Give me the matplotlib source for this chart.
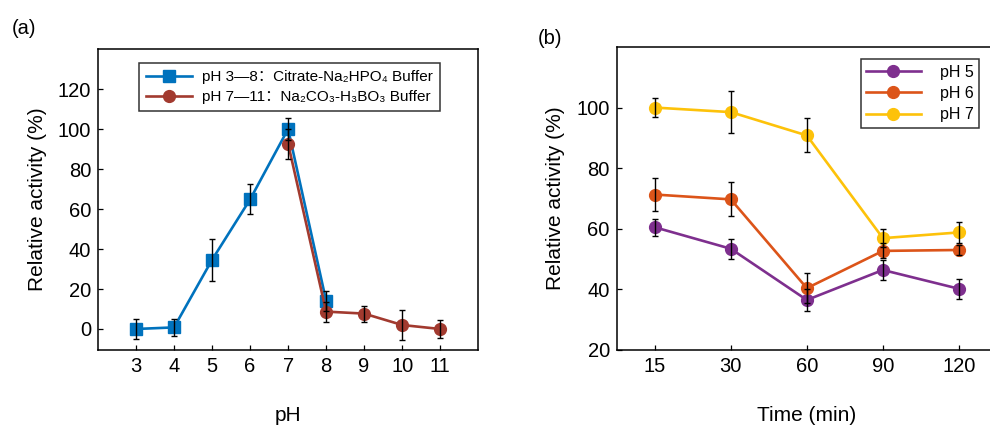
import numpy as np
import matplotlib
matplotlib.use("Agg")
import matplotlib.pyplot as plt

plt.rcParams['font.family'] = ['Liberation Sans', 'Noto Sans CJK SC', 'DejaVu Sans']

# panel (a): pH profile
ph_citrate = [3, 4, 5, 6, 7, 8]
act_citrate = [0, 0.8, 34.6, 64.8, 100, 14.1]
err_citrate = [5, 4.4, 10.6, 7.5, 5.4, 5]

ph_borate = [7, 8, 9, 10, 11]
act_borate = [92.7, 8.7, 7.7, 2.0, 0]
err_borate = [7.5, 5, 4, 7.5, 4.5]

# panel (b): stability over time
times = ['15', '30', '60', '90', '120']
ph5 = [60.5, 53.4, 36.5, 46.4, 40.2]
ph5_err = [2.8, 3.3, 3.5, 3.3, 3.3]
ph6 = [71.3, 69.7, 40.4, 52.7, 53.0]
ph6_err = [5.3, 5.6, 5.0, 2.5, 1.7]
ph7 = [100, 98.5, 90.8, 56.9, 58.8]
ph7_err = [3.2, 7.0, 5.6, 3.0, 3.5]

blue = '#0072BD'
brown = '#A23A2F'
purple = '#7E2F8E'
orange = '#DC5419'
yellow = '#FDC20A'

fig = plt.figure(figsize=(9.9, 4.25), dpi=100)
ax1 = fig.add_axes([0.099, 0.1765, 0.384, 0.708])
ax2 = fig.add_axes([0.623, 0.1765, 0.384, 0.713])

def style(ax):
    ax.tick_params(direction='in', length=3.5, width=0.9, labelsize=14.5, pad=5,
                   top=False, right=False)
    for s in ax.spines.values():
        s.set_linewidth(1.1)

# --- (a)
ax1.plot(ph_citrate, act_citrate, '-s', color=blue, lw=1.9, ms=8.5, zorder=2,
         label='pH 3\u20148\uff1aCitrate-Na\u2082HPO\u2084 Buffer')
ax1.errorbar(ph_citrate, act_citrate, yerr=err_citrate, fmt='none', ecolor='black',
             elinewidth=1, capsize=2.5, capthick=1, zorder=4)
ax1.plot(ph_borate, act_borate, '-o', color=brown, lw=1.9, ms=8.5, zorder=3,
         label='pH 7\u201411\uff1aNa\u2082CO\u2083-H\u2083BO\u2083 Buffer')
ax1.errorbar(ph_borate, act_borate, yerr=err_borate, fmt='none', ecolor='black',
             elinewidth=1, capsize=2.5, capthick=1, zorder=4)
ax1.set_xlim(2, 12)
ax1.set_ylim(-10.5, 140)
ax1.set_xticks(range(3, 12))
ax1.set_yticks(range(0, 121, 20))
ax1.set_xlabel('pH', fontsize=15, labelpad=22)
ax1.set_ylabel('Relative activity (%)', fontsize=15, labelpad=8)
style(ax1)
leg1 = ax1.legend(loc='upper left', bbox_to_anchor=(0.108, 0.953), fontsize=11,
                  frameon=True, fancybox=False, edgecolor='black', handlelength=3.0,
                  borderpad=0.45, labelspacing=0.4, handletextpad=0.7, borderaxespad=0)
leg1.get_frame().set_linewidth(1.1)
fig.text(0.012, 0.92, '(a)', fontsize=14.5)

# --- (b)
x = np.arange(len(times))
for vals, errs, c, lab in [(ph5, ph5_err, purple, 'pH 5'),
                           (ph6, ph6_err, orange, 'pH 6'),
                           (ph7, ph7_err, yellow, 'pH 7')]:
    ax2.plot(x, vals, '-o', color=c, lw=1.9, ms=8.5, label=lab, zorder=2)
    ax2.errorbar(x, vals, yerr=errs, fmt='none', ecolor='black', elinewidth=1,
                 capsize=2.5, capthick=1, zorder=4)
ax2.set_xlim(-0.5, 4.5)
ax2.set_ylim(20, 120)
ax2.set_xticks(x)
ax2.set_xticklabels(times)
ax2.set_yticks(range(20, 101, 20))
ax2.set_xlabel('Time (min)', fontsize=15, labelpad=22)
ax2.set_ylabel('Relative activity (%)', fontsize=15, labelpad=8)
style(ax2)
leg2 = ax2.legend(loc='upper right', bbox_to_anchor=(0.953, 0.96), fontsize=11.5,
                  frameon=True, fancybox=False, edgecolor='black', handlelength=3.4,
                  borderpad=0.35, labelspacing=0.4, handletextpad=1.2, borderaxespad=0)
leg2.get_frame().set_linewidth(1.1)
fig.text(0.543, 0.897, '(b)', fontsize=14.5)

fig.savefig('out.png', dpi=100)
